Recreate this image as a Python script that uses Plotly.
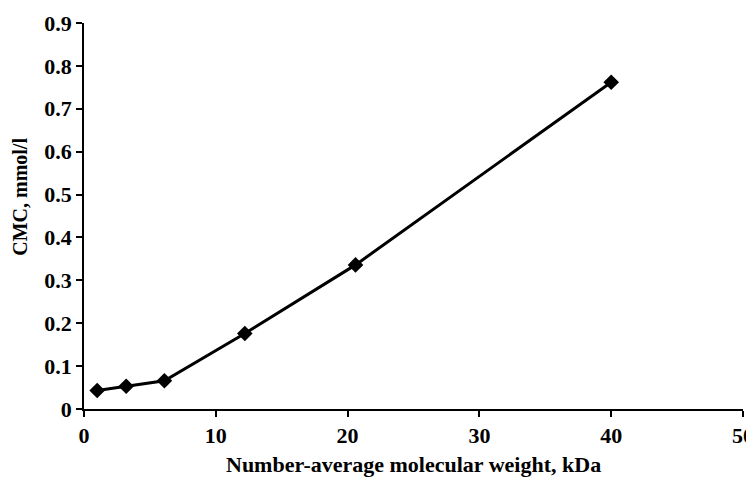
import plotly.graph_objects as go

mw_kda = [1.0, 3.2, 6.1, 12.2, 20.6, 40.0]
cmc_mmol = [0.043, 0.053, 0.066, 0.176, 0.336, 0.762]

x_ticks = [0, 10, 20, 30, 40, 50]
y_ticks = [0, 0.1, 0.2, 0.3, 0.4, 0.5, 0.6, 0.7, 0.8, 0.9]
y_labels = ["0", "0.1", "0.2", "0.3", "0.4", "0.5", "0.6", "0.7", "0.8", "0.9"]

FONT = "Liberation Serif, Times New Roman, serif"

fig = go.Figure()
fig.add_trace(go.Scatter(
    x=mw_kda, y=cmc_mmol, mode="lines+markers",
    line=dict(color="black", width=3),
    marker=dict(symbol="diamond", size=12, color="black"),
    showlegend=False, cliponaxis=False,
))

fig.update_layout(
    width=746, height=470,
    margin=dict(l=76, r=11, t=15, b=69),
    plot_bgcolor="white", paper_bgcolor="white",
    font=dict(family=FONT, color="black"),
    xaxis=dict(
        range=[0, 50], tickvals=x_ticks, ticks="outside", ticklen=6,
        tickwidth=1.5, tickcolor="black", showline=True, linecolor="black",
        linewidth=1.5, showgrid=False, zeroline=False, automargin=False,
        tickfont=dict(family=FONT, size=22, color="black", weight="bold"),
    ),
    yaxis=dict(
        range=[0, 0.9], tickvals=y_ticks, ticktext=y_labels, ticks="outside",
        ticklen=6, tickwidth=1.5, tickcolor="black", showline=True,
        linecolor="black", linewidth=1.5, showgrid=False, zeroline=False,
        automargin=False,
        tickfont=dict(family=FONT, size=22, color="black", weight="bold"),
    ),
    annotations=[
        dict(text="<b>Number-average molecular weight, kDa</b>", xref="paper",
             yref="paper", x=0.5, y=-0.106, xanchor="center", yanchor="top",
             showarrow=False, font=dict(family=FONT, size=22, color="black")),
        dict(text="<b>CMC, mmol/l</b>", xref="paper", yref="paper",
             x=-0.097, y=0.55, xanchor="center", yanchor="middle",
             textangle=-90, showarrow=False,
             font=dict(family=FONT, size=20, color="black")),
    ],
)

fig.write_html("out.html")
